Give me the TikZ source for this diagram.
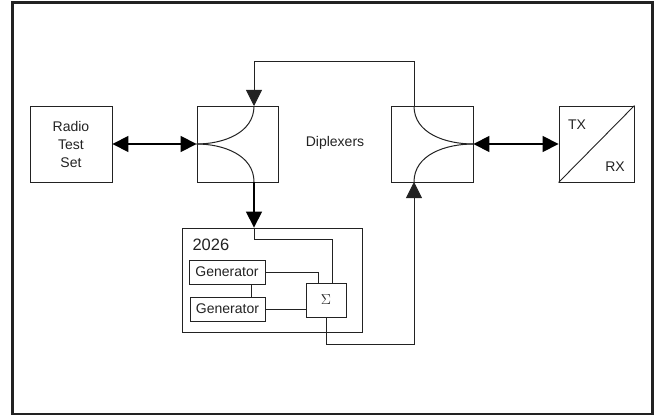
\documentclass[tikz,border=0pt]{standalone}
\usepackage{fontspec}
\setmainfont{Liberation Sans}
\usetikzlibrary{arrows.meta}
\definecolor{ink}{HTML}{222222}
\tikzset{
  box/.style={draw=ink, line width=0.9pt, rectangle, inner sep=0pt, text=ink,
    font=\fontsize{14}{18}\selectfont},
  lab/.style={text=ink, font=\fontsize{14}{18}\selectfont},
  wire/.style={draw=ink, line width=0.9pt},
  feed/.style={draw=black, line width=1.6pt},
  tip/.style={-{Triangle[length=16pt,width=16pt]}},
  dtip/.style={{Triangle[length=16pt,width=16pt]}-{Triangle[length=16pt,width=16pt]}},
}
\begin{document}
\begin{tikzpicture}[x=1pt,y=-1pt]
\useasboundingbox (0,0) rectangle (660,417);
% outer frame
\draw[draw=ink, line width=2.8pt] (12.5,2.5) rectangle (652.5,414);

% main blocks
\node[box, minimum width=82, minimum height=76, align=center] (rts) at (71,144) {Radio\\Test\\Set};
\node[box, minimum width=81, minimum height=76] (dipL) at (237.5,144) {};
\node[box, minimum width=82, minimum height=76] (dipR) at (432,144) {};
\node[box, minimum width=75, minimum height=76] (txrx) at (596.5,144) {};
\node[lab] (dlab) at (335,143) {Diplexers};
\node[lab] (tx) at (577,125) {TX};
\node[lab] (rx) at (615,167) {RX};
\draw[wire] (txrx.south west) -- (txrx.north east);

% 2026 signal source
\node[box, minimum width=180, minimum height=104] (src) at (272,280) {};
\node[text=ink, font=\fontsize{16.5}{18}\selectfont, anchor=west] (srclab) at (189,245) {2026};
\node[box, minimum width=76, minimum height=24] (gen1) at (227,272) {Generator};
\node[box, minimum width=75, minimum height=24] (gen2) at (227.5,309) {Generator};
\node[box, minimum width=40, minimum height=34, font=\fontsize{15}{16}\selectfont] (sig) at (326,300) {$\Sigma$};

% diplexer ports
\coordinate (dLtop) at (254,106);
\coordinate (dLbot) at (254,182);
\coordinate (dRtop) at (414,106);
\coordinate (dRbot) at (414,182);
\coordinate (sigA) at (332,283);
\coordinate (sigB) at (318,283);
\coordinate (g1s) at (251,284);
\coordinate (g2n) at (251,297);

% diplexer splits
\draw[wire, line width=1pt] (dipL.west) to[out=0,in=-90] (dLtop);
\draw[wire, line width=1pt] (dipL.west) to[out=0,in=90] (dLbot);
\draw[wire, line width=1pt] (dRtop) to[out=-90,in=180] (dipR.east);
\draw[wire, line width=1pt] (dRbot) to[out=90,in=180] (dipR.east);

% RF paths
\draw[feed, dtip] (rts.east) -- (dipL.west);
\draw[feed, dtip] (dipR.east) -- (txrx.west);
\draw[wire, tip] (dRtop) -- ++(0,-45) -| (dLtop);
\draw[feed, tip] (dLbot) -- (dLbot |- src.north);

% inside the 2026
\draw[wire] (dLbot |- src.north) -- ++(0,12) -| (sigA);
\draw[wire] (gen1.east) -| (sigB);
\draw[wire] (gen2.east) -- (gen2.east -| sig.west);
\draw[wire] (g1s) -- (g2n);

% summed output back to the right diplexer
\draw[wire, tip] (sig.south) -- ++(0,27) -| (dRbot);
\end{tikzpicture}
\end{document}
